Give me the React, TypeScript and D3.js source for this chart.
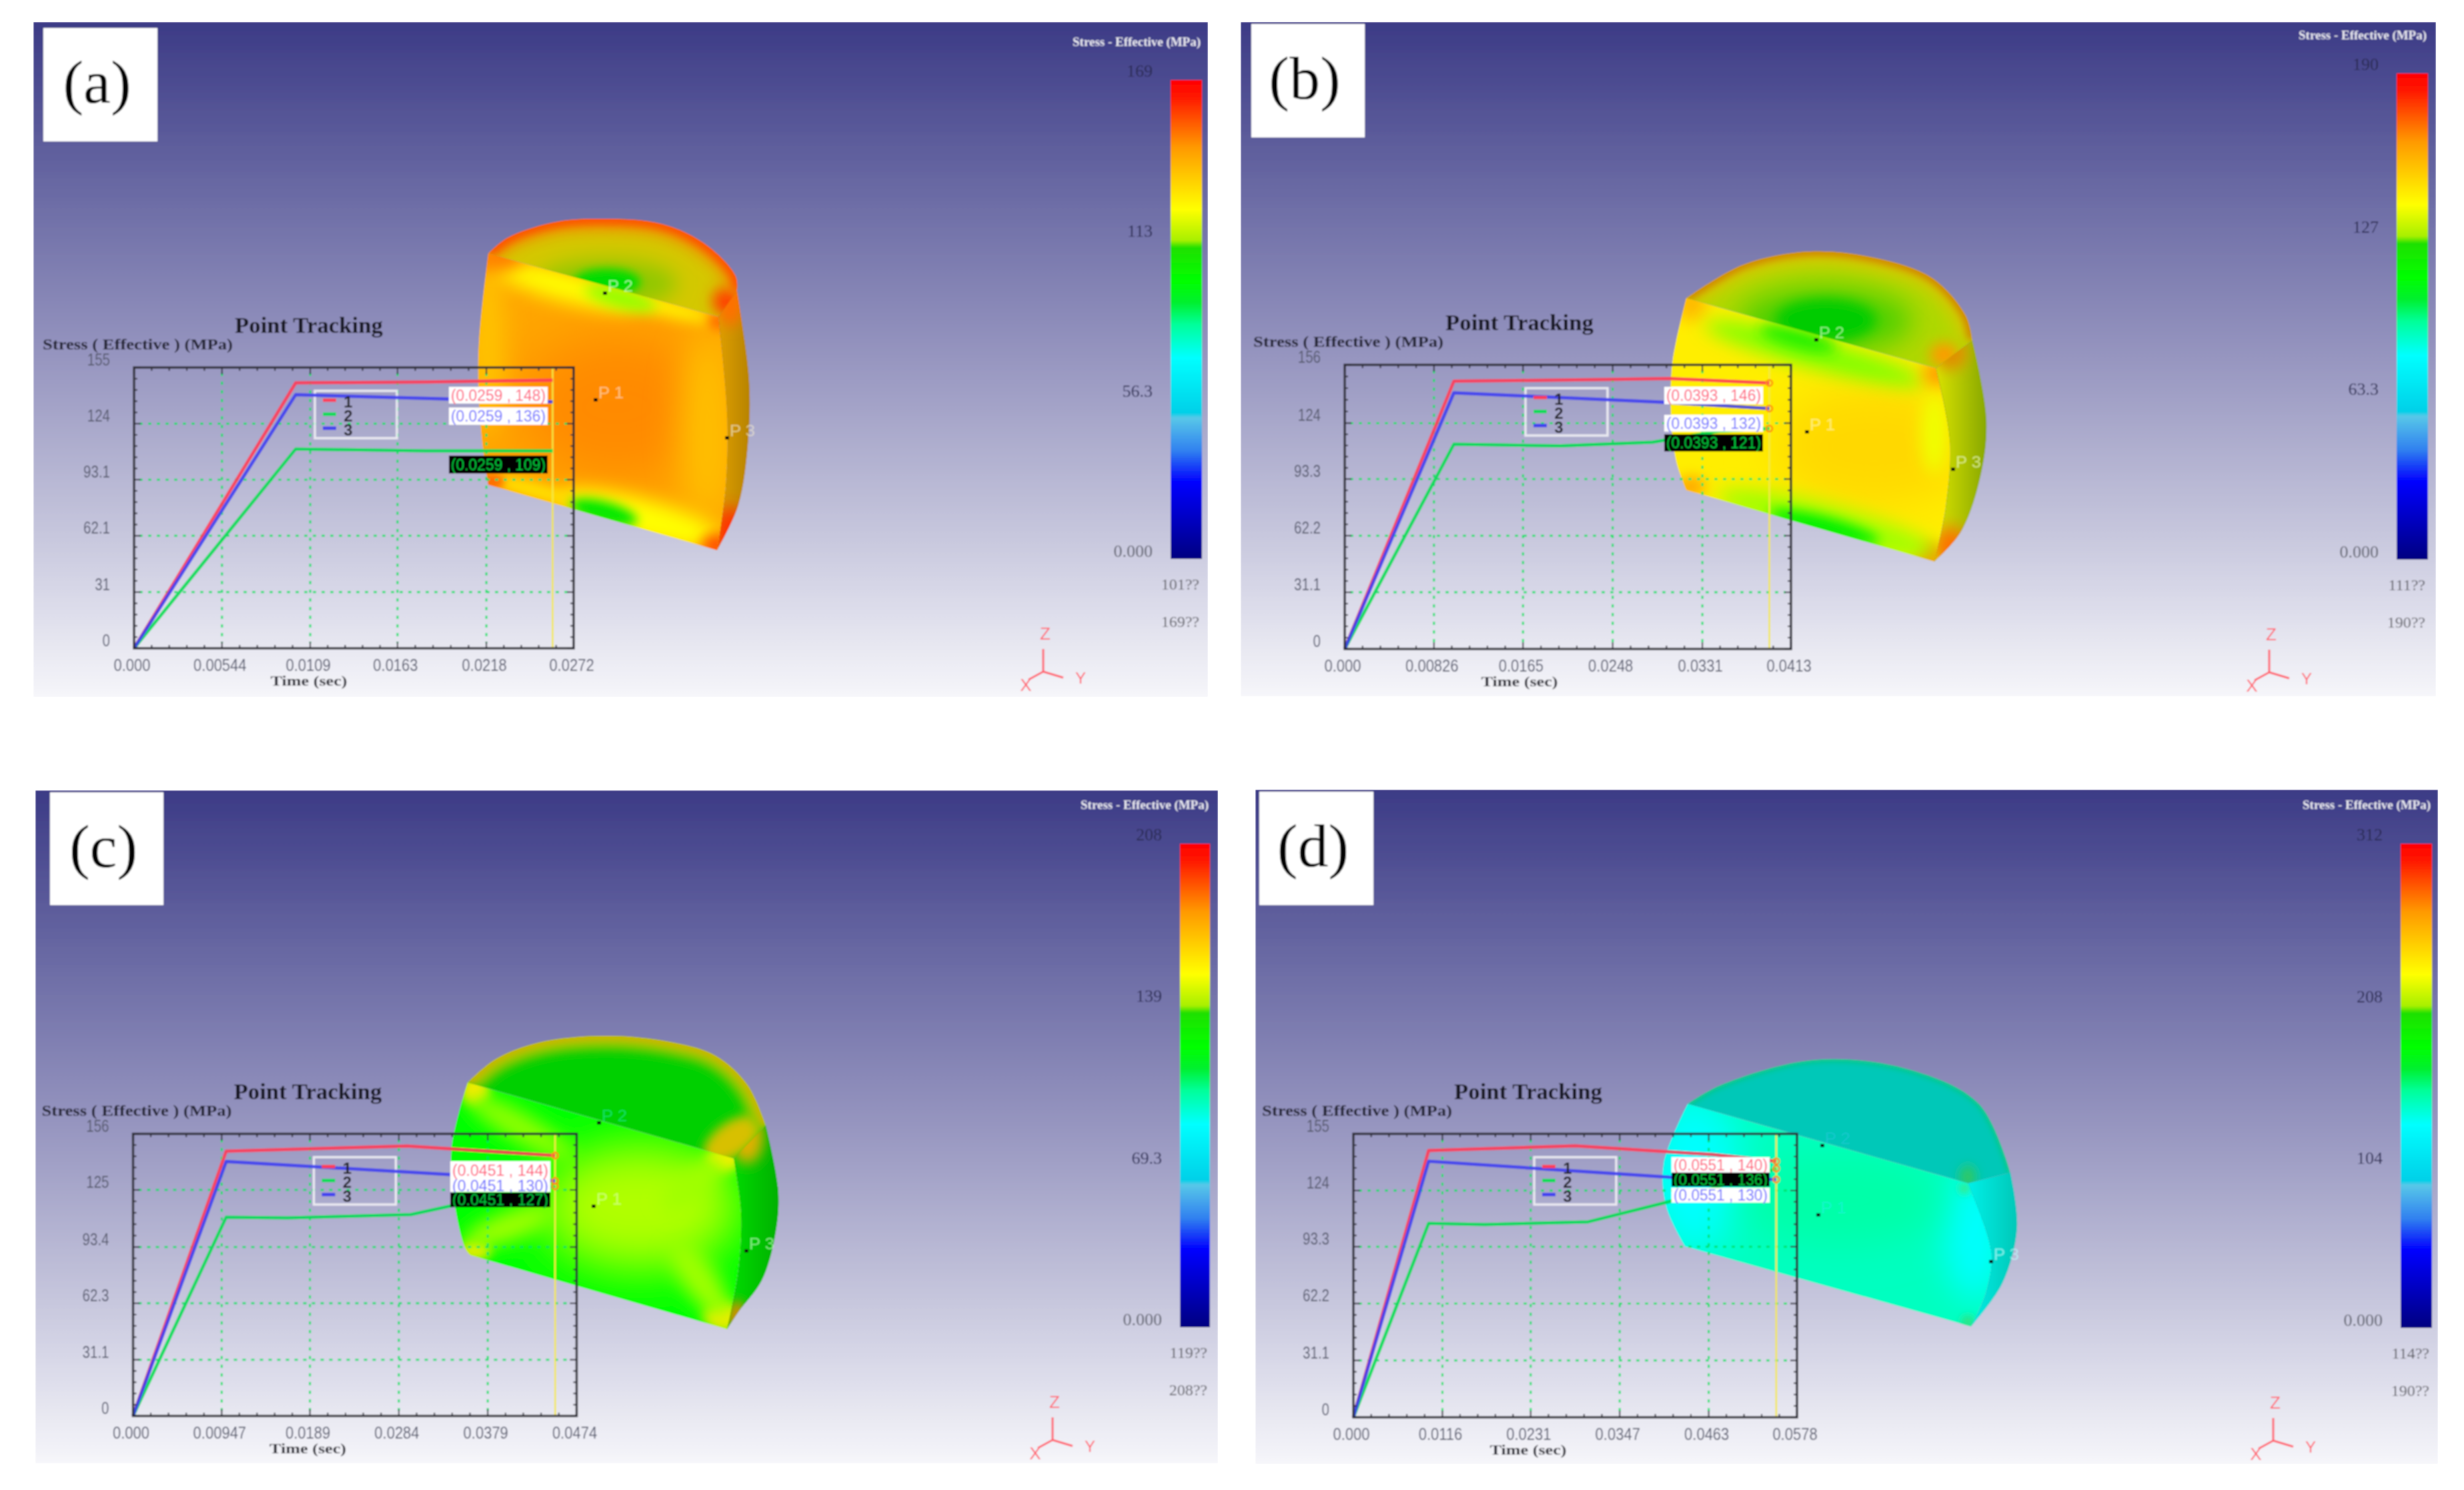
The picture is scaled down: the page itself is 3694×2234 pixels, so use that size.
import React from "react";
import * as d3 from "d3";

type Pt = [number, number];

// ---------- chart data ----------
const xTicksA = ["0.000", "0.00544", "0.0109", "0.0163", "0.0218", "0.0272"];
const yTicksA = ["0", "31", "62.1", "93.1", "124", "155"];
const red_A: Pt[] = [[0, 0], [0.01, 146.5], [0.018, 147], [0.0259, 148]];
const green_A: Pt[] = [[0, 0], [0.01, 110], [0.018, 109], [0.0259, 109]];
const blue_A: Pt[] = [[0, 0], [0.01, 140], [0.018, 138], [0.0259, 136]];

const xTicksB = ["0.000", "0.00826", "0.0165", "0.0248", "0.0331", "0.0413"];
const yTicksB = ["0", "31.1", "62.2", "93.3", "124", "156"];
const red_B: Pt[] = [[0, 0], [0.0101, 147], [0.025, 148], [0.03, 148.5], [0.0393, 146]];
const green_B: Pt[] = [[0, 0], [0.0101, 112.4], [0.02, 111.5], [0.0285, 113.5], [0.0345, 119.5], [0.0393, 121]];
const blue_B: Pt[] = [[0, 0], [0.0101, 140.6], [0.0294, 135.5], [0.0393, 132]];

const xTicksC = ["0.000", "0.00947", "0.0189", "0.0284", "0.0379", "0.0474"];
const yTicksC = ["0", "31.1", "62.3", "93.4", "125", "156"];
const red_C: Pt[] = [[0, 0], [0.00995, 146.4], [0.0293, 149.3], [0.0451, 144]];
const green_C: Pt[] = [[0, 0], [0.00995, 109.9], [0.0165, 109.5], [0.0297, 111.4], [0.0338, 116], [0.0451, 127]];
const blue_C: Pt[] = [[0, 0], [0.00995, 140.7], [0.0338, 133.5], [0.0451, 130]];

const xTicksD = ["0.000", "0.0116", "0.0231", "0.0347", "0.0463", "0.0578"];
const yTicksD = ["0", "31.1", "62.2", "93.3", "124", "155"];
const red_D: Pt[] = [[0, 0], [0.0098, 145.9], [0.0289, 148.4], [0.0468, 143.7], [0.0551, 140]];
const green_D: Pt[] = [[0, 0], [0.0098, 106], [0.0171, 105.4], [0.0306, 106.9], [0.0412, 118], [0.0551, 136]];
const blue_D: Pt[] = [[0, 0], [0.0098, 140], [0.0412, 131.3], [0.0551, 130]];

const barLabelsA = ["169", "113", "56.3", "0.000"];
const barLabelsB = ["190", "127", "63.3", "0.000"];
const barLabelsC = ["208", "139", "69.3", "0.000"];
const barLabelsD = ["312", "208", "104", "0.000"];
const footA = ["101??", "169??"];
const footB = ["111??", "190??"];
const footC = ["119??", "208??"];
const footD = ["114??", "190??"];

const legendNames = ["1", "2", "3"];
const seriesColors = ["#ff3c58", "#00dd55", "#4040f0"];

// ---------- colour stops ----------
const bgStops: [number, string][] = [[0, "#3c3b86"], [0.25, "#6a6aa4"], [0.5, "#9796c0"], [0.75, "#c5c5dc"], [1, "#f6f6fa"]];
const barStops: [number, string][] = [
  [0, "#ff0000"], [0.035, "#ff1800"], [0.14, "#ff9900"], [0.27, "#ffff00"], [0.335, "#a8f000"], [0.35, "#20e000"],
  [0.42, "#00ff00"], [0.465, "#00f030"], [0.51, "#00ff99"], [0.58, "#00ffff"], [0.695, "#00d0e8"], [0.705, "#58c8e8"],
  [0.775, "#3080f0"], [0.84, "#0000ff"], [1, "#000080"],
];

// ---------- blobs & solids ----------
type Blob = [number, number, number, number, number, string, number]; // cx cy rx ry rot colour blur
interface Solid {
  tl: Pt; tr: Pt; br: Pt; bl: Pt;
  arc: Pt[]; left: Pt[]; right: Pt[]; outer: Pt[];
  topFill: string; frontFill: string; sideFill: [string, string];
  rim: [string, number, number][];
  topBlobs: Blob[]; frontBlobs: Blob[]; sideBlobs: Blob[];
}

const solidA: Solid = {
  tl: [732, 380], tr: [1077, 475], br: [1075, 825], bl: [732, 727],
  arc: [[732, 380], [760, 357], [827, 334], [893, 328], [993, 336], [1060, 368], [1103, 414], [1105, 436]],
  left: [[732, 380], [717, 532], [722, 657], [732, 727]],
  right: [[1077, 475], [1090, 621], [1088, 728], [1075, 825]],
  outer: [[1105, 436], [1123, 568], [1122, 657], [1107, 757], [1075, 825]],
  topFill: "#d4c800", frontFill: "#ffa600", sideFill: ["#e0a000", "#b88400"],
  rim: [["#f09000", 34, 12], ["#ff4800", 16, 7]],
  topBlobs: [[910, 425, 105, 36, 0, "#90c800", 15], [910, 423, 50, 20, 0, "#00dd00", 7], [1090, 452, 22, 22, 0, "#ff4000", 10]],
  frontBlobs: [
    [925, 610, 150, 110, 0, "#ff8a00", 40], [1060, 640, 40, 140, 0, "#ffc000", 25], [730, 520, 25, 130, 0, "#ffc400", 18],
    [850, 430, 110, 22, 15, "#ffff00", 14], [990, 458, 80, 14, 15, "#ffee00", 10], [930, 447, 55, 14, 15, "#90ff00", 10],
    [745, 385, 40, 20, 0, "#ff8000", 12], [960, 778, 130, 30, 15, "#ffff00", 14], [800, 735, 60, 12, 15, "#ffe000", 8],
    [905, 768, 52, 16, 15, "#00e800", 8], [1075, 818, 24, 18, 0, "#ff5000", 10], [738, 722, 18, 11, 0, "#ff6a00", 6], [1077, 482, 14, 12, 0, "#ff6a00", 8],
  ],
  sideBlobs: [[1095, 450, 20, 40, 0, "#ff7000", 10], [1095, 800, 25, 40, 0, "#ff3000", 12]],
};
const solidB: Solid = {
  tl: [2528, 447], tr: [2902, 552], br: [2900, 842], bl: [2528, 735],
  arc: [[2528, 447], [2613, 397], [2713, 377], [2813, 387], [2897, 417], [2947, 473], [2957, 510]],
  left: [[2528, 447], [2507, 543], [2505, 627], [2513, 693], [2528, 735]],
  right: [[2902, 552], [2923, 660], [2917, 760], [2900, 842]],
  outer: [[2957, 510], [2978, 627], [2970, 710], [2940, 797], [2900, 842]],
  topFill: "#b0d800", frontFill: "#ffee00", sideFill: ["#dce400", "#88a800"],
  rim: [["#d8c800", 38, 12], ["#d08000", 13, 6]],
  topBlobs: [[2737, 480, 130, 50, 0, "#50d000", 20], [2737, 480, 75, 32, 0, "#00cc00", 10], [2915, 532, 22, 18, 0, "#ff9a00", 10]],
  frontBlobs: [
    [2810, 670, 150, 90, 0, "#ffd800", 35], [2535, 455, 24, 26, 0, "#ffb800", 12], [2535, 730, 22, 16, 0, "#ffa800", 10], [2895, 835, 26, 20, 0, "#ff9000", 10],
    [2720, 530, 170, 22, 15, "#80ff00", 14], [2695, 508, 60, 14, 15, "#20f000", 10], [2740, 785, 170, 28, 15, "#a0ff00", 14], [2735, 790, 85, 15, 15, "#00f000", 9],
    [2905, 560, 22, 20, 0, "#ff9a00", 12], [2900, 650, 20, 60, 0, "#f0ff00", 12],
  ],
  sideBlobs: [[2925, 820, 25, 30, 0, "#ff7000", 12], [2925, 530, 25, 25, 0, "#e09000", 10]],
};
const solidC: Solid = {
  tl: [701, 1623], tr: [1100, 1737], br: [1090, 1993], bl: [705, 1882],
  arc: [[701, 1623], [743, 1588], [808, 1563], [908, 1553], [1004, 1562], [1073, 1583], [1121, 1627], [1148, 1687]],
  left: [[701, 1623], [677, 1720], [681, 1803], [698, 1873], [705, 1882]],
  right: [[1100, 1737], [1111, 1820], [1107, 1903], [1090, 1993]],
  outer: [[1148, 1687], [1167, 1787], [1162, 1853], [1142, 1920], [1107, 1967], [1090, 1993]],
  topFill: "#00d000", frontFill: "#00ff00", sideFill: ["#00e000", "#00b000"],
  rim: [["#a0c800", 40, 8], ["#c8b800", 13, 4]],
  topBlobs: [[1098, 1708, 50, 26, -35, "#d8c000", 8]],
  frontBlobs: [
    [960, 1810, 150, 95, 0, "#b0ff00", 35], [712, 1635, 22, 22, 0, "#ffe800", 8], [780, 1690, 90, 22, 30, "#90ff00", 14], [712, 1875, 24, 14, 0, "#ffe800", 8],
    [760, 1840, 70, 22, -20, "#a0ff00", 14], [1085, 1975, 30, 22, 0, "#ffe800", 9], [1050, 1920, 70, 25, 55, "#a0ff00", 14], [1085, 1738, 26, 18, 0, "#ffee00", 8],
    [1040, 1775, 60, 22, -40, "#a0ff00", 14],
  ],
  sideBlobs: [[1120, 1705, 25, 40, 0, "#e0b000", 10], [1105, 1975, 15, 25, 0, "#d09000", 8]],
};
const solidD: Solid = {
  tl: [2530, 1655], tr: [2950, 1774], br: [2955, 1989], bl: [2526, 1869],
  arc: [[2530, 1655], [2579, 1627], [2720, 1589], [2861, 1603], [2967, 1655], [3014, 1758]],
  left: [[2530, 1655], [2494, 1745], [2498, 1810], [2526, 1869]],
  right: [[2950, 1774], [2985, 1876], [2978, 1935], [2955, 1989]],
  outer: [[3014, 1758], [3024, 1841], [3002, 1924], [2955, 1989]],
  topFill: "#00c8b8", frontFill: "#00ffc0", sideFill: ["#00f0e8", "#00c8b8"],
  rim: [["#10c880", 8, 4]],
  topBlobs: [[2950, 1765, 12, 18, 0, "#30c860", 8]],
  frontBlobs: [[2540, 1760, 70, 120, 0, "#00ffff", 30], [2960, 1850, 45, 100, 0, "#00ffff", 25], [2760, 1800, 150, 70, 0, "#00ffa8", 30], [2945, 1782, 8, 8, 0, "#40e880", 6], [2950, 1982, 10, 10, 0, "#30e080", 6]],
  sideBlobs: [],
};

// ---------- panel layout ----------
interface Panel {
  key: string; tag: string; bg: number[]; tagBox: number[]; box: number[]; bar: number[];
  xTicks: string[]; yTicks: string[]; cursor: number;
  series: Pt[][]; barLabels: string[]; foot: string[]; solid: Solid;
  probes: { n: string; p: Pt; c: string }[];
  labels: { text: string; kind: number; y: number; h: number }[]; labelX: number[]; endDots: boolean; header: number;
}
const panels: Panel[] = [
  {
    key: "a", tag: "(a)", bg: [50, 33, 1811, 1045], tagBox: [65, 42, 236, 212], box: [201, 551, 860, 972], bar: [1755, 120, 1802, 838],
    xTicks: xTicksA, yTicks: yTicksA, cursor: 0.0259, series: [red_A, green_A, blue_A], barLabels: barLabelsA, foot: footA, solid: solidA,
    probes: [{ n: "P 1", p: [893, 599], c: "#ffe0c0" }, { n: "P 2", p: [907, 439], c: "#e8ffe0" }, { n: "P 3", p: [1090, 656], c: "#f0e8d0" }],
    labels: [{ text: "(0.0259 , 148)", kind: 0, y: 580, h: 25 }, { text: "(0.0259 , 136)", kind: 2, y: 611, h: 26 }, { text: "(0.0259 , 109)", kind: 1, y: 683, h: 27 }],
    labelX: [673, 821], endDots: false, header: 63,
  },
  {
    key: "b", tag: "(b)", bg: [1860, 33, 3652, 1044], tagBox: [1876, 36, 2046, 206], box: [2016, 547, 2685, 973], bar: [3593, 110, 3640, 839],
    xTicks: xTicksB, yTicks: yTicksB, cursor: 0.0393, series: [red_B, green_B, blue_B], barLabels: barLabelsB, foot: footB, solid: solidB,
    probes: [{ n: "P 1", p: [2709, 647], c: "#fff8b0" }, { n: "P 2", p: [2723, 509], c: "#d0ffc0" }, { n: "P 3", p: [2928, 703], c: "#f0ffc0" }],
    labels: [{ text: "(0.0393 , 146)", kind: 0, y: 580, h: 26 }, { text: "(0.0393 , 132)", kind: 2, y: 622, h: 25 }, { text: "(0.0393 , 121)", kind: 1, y: 651, h: 26 }],
    labelX: [2495, 2643], endDots: true, header: 53,
  },
  {
    key: "c", tag: "(c)", bg: [53, 1185, 1826, 2194], tagBox: [75, 1188, 245, 1357], box: [199.5, 1700, 864.5, 2123], bar: [1769, 1265, 1814, 1990],
    xTicks: xTicksC, yTicks: yTicksC, cursor: 0.0451, series: [red_C, green_C, blue_C], barLabels: barLabelsC, foot: footC, solid: solidC,
    probes: [{ n: "P 1", p: [890, 1808], c: "#e0ffa0" }, { n: "P 2", p: [898, 1683], c: "#20e890" }, { n: "P 3", p: [1119, 1875], c: "#c0ffc0" }],
    labels: [{ text: "(0.0451 , 144)", kind: 0, y: 1741, h: 27 }, { text: "(0.0451 , 130)", kind: 2, y: 1768, h: 19 }, { text: "(0.0451 , 127)", kind: 1, y: 1788, h: 22 }],
    labelX: [675, 825], endDots: true, header: 1207,
  },
  {
    key: "d", tag: "(d)", bg: [1882, 1184, 3655, 2195], tagBox: [1888, 1187, 2059, 1357], box: [2029, 1700, 2694, 2125], bar: [3599, 1265, 3646, 1991],
    xTicks: xTicksD, yTicks: yTicksD, cursor: 0.0551, series: [red_D, green_D, blue_D], barLabels: barLabelsD, foot: footD, solid: solidD,
    probes: [{ n: "P 1", p: [2726, 1821], c: "#20f0e0" }, { n: "P 2", p: [2732, 1717], c: "#20c8d8" }, { n: "P 3", p: [2985, 1891], c: "#c0ffff" }],
    labels: [{ text: "(0.0551 , 140)", kind: 0, y: 1735, h: 23 }, { text: "(0.0551 , 136)", kind: 1, y: 1758, h: 21 }, { text: "(0.0551 , 130)", kind: 2, y: 1781, h: 22 }],
    labelX: [2506, 2653], endDots: true, header: 1207,
  },
];

const SANS = "'Liberation Sans', Arial, sans-serif";
const SERIF = "'Liberation Serif', 'Times New Roman', serif";
const curve = d3.line<Pt>().curve(d3.curveCatmullRom.alpha(0.5));
const seg = (pts: Pt[]) => curve(pts) as string;
const cont = (pts: Pt[]) => seg(pts).replace(/^M/, "L");
const blurs = [4, 6, 7, 8, 9, 10, 12, 14, 15, 18, 20, 25, 30, 35, 40];

const Txt = ({ x, y, s, sx = 1, anchor = "start", size, fill, weight, family = SANS, len, op }: any) => (
  <text transform={`translate(${x},${y}) scale(${sx},1)`} textAnchor={anchor} fontSize={size} fill={fill} fontWeight={weight} fontFamily={family}
    opacity={op} textLength={len} lengthAdjust={len ? "spacingAndGlyphs" : undefined}>{s}</text>
);

function BlobSet({ blobs }: { blobs: Blob[] }) {
  return (
    <>
      {blobs.map((b, i) => (
        <ellipse key={i} cx={b[0]} cy={b[1]} rx={b[2]} ry={b[3]} fill={b[5]} transform={`rotate(${b[4]} ${b[0]} ${b[1]})`} filter={`url(#blur${b[6]})`} />
      ))}
    </>
  );
}

function SolidView({ id, s }: { id: string; s: Solid }) {
  const end = s.arc[s.arc.length - 1];
  const top = `${seg(s.arc)}L${s.tr[0]},${s.tr[1]}Z`;
  const front = `M${s.tl[0]},${s.tl[1]}L${s.tr[0]},${s.tr[1]}${cont(s.right)}L${s.bl[0]},${s.bl[1]}${cont([...s.left].reverse())}Z`;
  const side = `M${s.tr[0]},${s.tr[1]}L${end[0]},${end[1]}${cont(s.outer)}${cont([...s.right].reverse())}Z`;
  const x0 = d3.min(s.right, (d) => d[0]) as number;
  const x1 = d3.max(s.outer, (d) => d[0]) as number;
  return (
    <g>
      <defs>
        <clipPath id={`top${id}`}><path d={top} /></clipPath>
        <clipPath id={`front${id}`}><path d={front} /></clipPath>
        <clipPath id={`side${id}`}><path d={side} /></clipPath>
        <linearGradient id={`sg${id}`} gradientUnits="userSpaceOnUse" x1={x0} x2={x1} y1={0} y2={0}>
          <stop offset="0" stopColor={s.sideFill[0]} /><stop offset="1" stopColor={s.sideFill[1]} />
        </linearGradient>
      </defs>
      <g clipPath={`url(#side${id})`}>
        <path d={side} fill={`url(#sg${id})`} stroke={s.sideFill[1]} strokeWidth={1} />
        <BlobSet blobs={s.sideBlobs} />
      </g>
      <g clipPath={`url(#top${id})`}>
        <path d={top} fill={s.topFill} />
        <BlobSet blobs={s.topBlobs} />
        {s.rim.map((r, i) => (
          <path key={i} d={seg(s.arc)} fill="none" stroke={r[0]} strokeWidth={r[1]} filter={`url(#blur${r[2]})`} />
        ))}
      </g>
      <g clipPath={`url(#front${id})`}>
        <path d={front} fill={s.frontFill} />
        <BlobSet blobs={s.frontBlobs} />
      </g>
    </g>
  );
}

function Chart({ p }: { p: Panel }) {
  const [x0, y0, x1, y1] = p.box;
  const xv = p.xTicks.map(Number);
  const yv = p.yTicks.map(Number);
  const x = d3.scaleLinear().domain([0, xv[xv.length - 1]]).range([x0, x1]);
  const y = d3.scaleLinear().domain([0, yv[yv.length - 1]]).range([y1, y0]);
  const line = d3.line<Pt>().x((d) => x(d[0])).y((d) => y(d[1]));
  const sub = (v: number[]) => d3.pairs(v).flatMap(([a, b]) => d3.range(1, 5).map((k) => a + ((b - a) * k) / 5));
  const xm = sub(xv), ym = sub(yv);
  const tick = "#2c2c34";
  const lg = [x0 + 271, y0 + 35, 123, 71];
  return (
    <g>
      {yv.slice(1, -1).map((v) => (
        <line key={v} x1={x0 + 8} x2={x1 - 8} y1={y(v)} y2={y(v)} stroke="#00e060" strokeWidth={3} strokeDasharray="5 8" opacity={0.85} />
      ))}
      {xv.slice(1, -1).map((v) => (
        <line key={v} x1={x(v)} x2={x(v)} y1={y0 + 8} y2={y1 - 8} stroke="#00e060" strokeWidth={3} strokeDasharray="5 8" opacity={0.85} />
      ))}
      <line x1={x(p.cursor)} x2={x(p.cursor)} y1={y0} y2={y1} stroke="#f4e840" strokeWidth={2.5} />
      <rect x={lg[0]} y={lg[1]} width={lg[2]} height={lg[3]} fill="none" stroke="#f0f0f4" strokeWidth={3.5} opacity={0.9} />
      {p.series.map((s, i) => (
        <path key={i} d={line(s) as string} fill="none" stroke={seriesColors[i]} strokeWidth={5} opacity={0.9} strokeLinejoin="round" />
      ))}
      {p.endDots && p.series.map((s, i) => {
        const e = s[s.length - 1];
        return <circle key={i} cx={x(e[0])} cy={y(e[1])} r={4.5} fill="none" stroke="#ff8c10" strokeWidth={2.5} />;
      })}
      {legendNames.map((n, i) => (
        <g key={n}>
          <line x1={lg[0] + 12} x2={lg[0] + 32} y1={lg[1] + 14 + i * 21} y2={lg[1] + 14 + i * 21} stroke={seriesColors[i]} strokeWidth={5} />
          <Txt x={lg[0] + 50} y={lg[1] + 25 + i * 21} s={n} size={24} weight={700} fill="#202028" anchor="middle" />
        </g>
      ))}
      <rect x={x0} y={y0} width={x1 - x0} height={y1 - y0} fill="none" stroke={tick} strokeWidth={3.5} opacity={0.92} />
      {xv.concat(xm).map((v, i) => {
        const l = i < xv.length ? 10 : 5;
        return <g key={i} stroke={tick} strokeWidth={2}><line x1={x(v)} x2={x(v)} y1={y0} y2={y0 + l} /><line x1={x(v)} x2={x(v)} y1={y1} y2={y1 - l} /></g>;
      })}
      {yv.concat(ym).map((v, i) => {
        const l = i < yv.length ? 10 : 5;
        return <g key={i} stroke={tick} strokeWidth={2}><line x1={x0} x2={x0 + l} y1={y(v)} y2={y(v)} /><line x1={x1} x2={x1 - l} y1={y(v)} y2={y(v)} /></g>;
      })}
      {p.yTicks.map((t, i) => (
        <Txt key={t} x={x0 - 36} y={y(yv[i]) - 3} s={t} size={25} sx={0.82} anchor="end" fill="#55586c" />
      ))}
      {p.xTicks.map((t, i) => (
        <Txt key={t} x={x(xv[i]) - 3} y={y1 + 34} s={t} size={25} sx={0.88} anchor="middle" fill="#55586c" />
      ))}
      <Txt x={x0 + 262} y={y0 - 52} s="Point Tracking" size={33} weight={700} family={SERIF} fill="#181820" anchor="middle" len={222} />
      <Txt x={x0 - 137} y={y0 - 27} s="Stress ( Effective )  (MPa)" size={23} weight={700} family={SERIF} fill="#202030" len={285} />
      <Txt x={x0 + 262} y={y1 + 56} s="Time (sec)" size={22} weight={700} family={SERIF} fill="#282830" anchor="middle" len={115} />
      {p.labels.map((l, i) => (
        <g key={i}>
          <rect x={p.labelX[0]} y={l.y} width={p.labelX[1] - p.labelX[0]} height={l.h} fill={l.kind === 1 ? "#000000" : "#ffffff"} />
          <Txt x={(p.labelX[0] + p.labelX[1]) / 2} y={l.y + l.h / 2 + 8} s={l.text} size={23} anchor="middle"
            fill={l.kind === 0 ? "#ff5a78" : l.kind === 1 ? "#00c83c" : "#6a6aff"} len={p.labelX[1] - p.labelX[0] - 6} />
        </g>
      ))}
    </g>
  );
}

function ColorBar({ p }: { p: Panel }) {
  const [x0, y0, x1, y1] = p.bar;
  const pos = d3.scaleLinear().domain([0, p.barLabels.length - 1]).range([y0 - 14, y1 - 12]);
  return (
    <g>
      <rect x={x0} y={y0} width={x1 - x0} height={y1 - y0} fill="url(#colorbar)" />
      <Txt x={x1 - 2} y={p.header + 6} s="Stress - Effective (MPa)" size={18} weight={700} family={SERIF} fill="#e8e8f0" anchor="end" len={192} />
      {p.barLabels.map((t, i) => (
        <Txt key={t} x={x0 - 27} y={pos(i) + 9} s={t} size={26} family={SERIF} anchor="end" fill={i === 3 ? "#5c5e6a" : "#2a2b52"} />
      ))}
      {p.foot.map((t, i) => (
        <Txt key={t} x={x1 - 4} y={y1 + 46 + i * 56} s={t} size={24} family={SERIF} anchor="end" fill="#5e5e66" />
      ))}
    </g>
  );
}

function Triad({ p }: { p: Panel }) {
  const ox = p.bar[0] - 191, oy = p.bar[3] + 169;
  const c = "#ff6470";
  return (
    <g stroke={c} strokeWidth={3} fill="none">
      <line x1={ox} y1={oy} x2={ox} y2={oy - 34} />
      <line x1={ox} y1={oy} x2={ox + 30} y2={oy + 9} />
      <line x1={ox} y1={oy} x2={ox - 22} y2={oy + 12} />
      <g stroke="none">
        <Txt x={ox + 3} y={oy - 48} s="Z" size={26} anchor="middle" fill={c} />
        <Txt x={ox + 56} y={oy + 18} s="Y" size={24} anchor="middle" fill={c} />
        <Txt x={ox - 26} y={oy + 29} s="X" size={26} anchor="middle" fill={c} />
      </g>
    </g>
  );
}

function PanelView({ p }: { p: Panel }) {
  const [bx0, by0, bx1, by1] = p.bg;
  const [tx0, ty0, tx1, ty1] = p.tagBox;
  return (
    <g filter="url(#soft)">
      <rect x={bx0} y={by0} width={bx1 - bx0} height={by1 - by0} fill="url(#bggrad)" />
      <SolidView id={p.key} s={p.solid} />
      {p.probes.map((q) => (
        <g key={q.n}>
          <rect x={q.p[0] - 3} y={q.p[1] - 2} width={6} height={5} fill="#101010" />
          <Txt x={q.p[0] + 4} y={q.p[1] - 2} s={q.n} size={23} fill={q.c} len={38} op={0.65} />
        </g>
      ))}
      <Chart p={p} />
      <ColorBar p={p} />
      <Triad p={p} />
      <rect x={tx0} y={ty0} width={tx1 - tx0} height={ty1 - ty0} fill="#ffffff" />
      <text x={(tx0 + tx1) / 2 - 5} y={ty0 + 112} textAnchor="middle" fontFamily={SERIF} fontSize={92} fill="#000">{p.tag}</text>
    </g>
  );
}

export default function App() {
  return (
    <svg width={3694} height={2234} viewBox="0 0 3694 2234" style={{ position: "absolute", left: 0, top: 0, display: "block", background: "#fff" }}>
      <defs>
        <linearGradient id="bggrad" x1="0" x2="0" y1="0" y2="1">
          {bgStops.map(([o, c]) => <stop key={o} offset={o} stopColor={c} />)}
        </linearGradient>
        <linearGradient id="colorbar" x1="0" x2="0" y1="0" y2="1">
          {barStops.map(([o, c]) => <stop key={o} offset={o} stopColor={c} />)}
        </linearGradient>
        <filter id="soft" x="0" y="0" width="1" height="1"><feGaussianBlur stdDeviation="1.1" /></filter>
        {blurs.map((b) => (
          <filter key={b} id={`blur${b}`} x="-150%" y="-150%" width="400%" height="400%"><feGaussianBlur stdDeviation={b} /></filter>
        ))}
      </defs>
      {panels.map((p) => <PanelView key={p.key} p={p} />)}
    </svg>
  );
}
